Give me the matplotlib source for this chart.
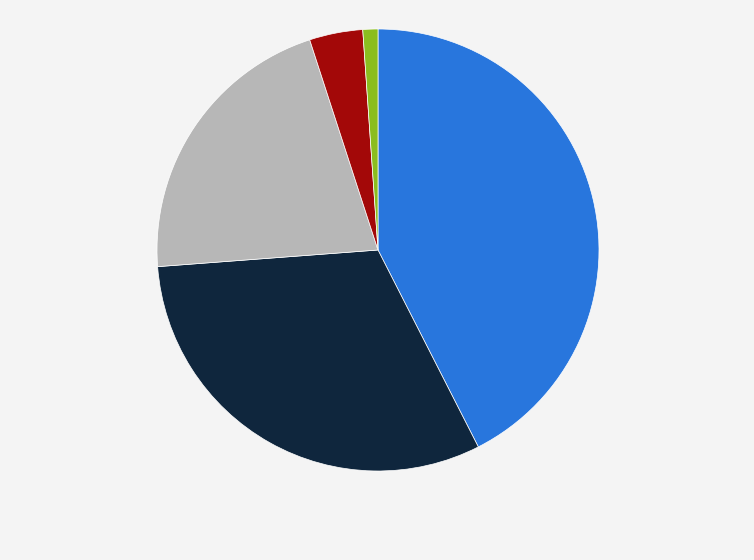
import matplotlib
matplotlib.use("Agg")
import matplotlib.pyplot as plt

categories = ["A", "B", "C", "D", "E"]
values = [42.5, 31.3, 21.2, 3.9, 1.1]
colors = ["#2876dd", "#0f263d", "#b7b7b7", "#a30808", "#8bbd1f"]

fig = plt.figure(figsize=(7.54, 5.6), dpi=100)
fig.patch.set_facecolor("#f4f4f4")
ax = fig.add_axes([157/754, (560-471)/560, 442/754, 442/560])
ax.set_facecolor("#f4f4f4")
ax.pie(values, colors=colors, startangle=90, counterclock=False,
       wedgeprops=dict(edgecolor="white", linewidth=0.5), radius=1.0)
ax.set_xlim(-1.0, 1.0)
ax.set_ylim(-1.0, 1.0)
ax.set_aspect("equal")
ax.axis("off")
fig.savefig("out.png", dpi=100, facecolor=fig.get_facecolor())
